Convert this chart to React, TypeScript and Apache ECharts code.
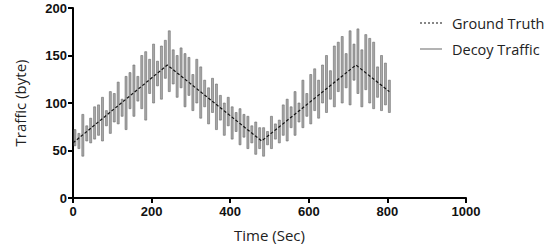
import React, { useEffect, useRef } from "react";
import * as echarts from "echarts";

// Ground truth key points [time, traffic]
const truthTimes = [0, 240, 480, 720, 805];
const truthValues = [58, 140, 60, 140, 112];

// Decoy traffic bars: time, high, low
const decoyTimes = [
  5, 15, 25, 35, 45, 55, 65, 75, 85, 95, 105, 115, 125, 135, 145, 155, 165, 175, 185, 195,
  205, 215, 225, 235, 245, 255, 265, 275, 285, 295, 305, 315, 325, 335, 345, 355, 365, 375, 385, 395,
  405, 415, 425, 435, 445, 455, 465, 475, 485, 495, 505, 515, 525, 535, 545, 555, 565, 575, 585, 595,
  605, 615, 625, 635, 645, 655, 665, 675, 685, 695, 705, 715, 725, 735, 745, 755, 765, 775, 785, 795, 805,
];
const decoyHigh = [
  72, 68, 88, 76, 84, 96, 98, 106, 92, 112, 110, 122, 104, 128, 132, 140, 128, 150, 154, 146,
  162, 144, 160, 166, 176, 156, 150, 158, 152, 148, 130, 146, 138, 124, 116, 126, 120, 108, 100, 106,
  96, 90, 94, 88, 86, 76, 80, 74, 74, 70, 86, 78, 82, 98, 104, 96, 112, 100, 124, 110,
  130, 136, 124, 140, 150, 134, 160, 164, 170, 152, 176, 162, 178, 156, 172, 168, 164, 138, 150, 142, 124,
];
const decoyLow = [
  55, 52, 44, 60, 58, 62, 66, 60, 76, 68, 80, 78, 86, 72, 94, 86, 102, 94, 82, 110,
  100, 118, 104, 126, 112, 120, 106, 116, 96, 108, 92, 100, 84, 96, 78, 90, 72, 82, 66, 76,
  62, 70, 56, 64, 52, 58, 46, 52, 44, 56, 52, 62, 58, 66, 60, 74, 66, 80, 74, 86,
  78, 92, 84, 100, 90, 104, 96, 112, 100, 116, 98, 124, 110, 96, 114, 100, 94, 106, 92, 98, 90,
];

const xTicks = [0, 1000, 200];
const yTicks = [0, 200, 50];

export default function App() {
  const ref = useRef<HTMLDivElement>(null);
  useEffect(() => {
    if (!ref.current) return;
    const chart = echarts.init(ref.current, null, { renderer: "svg" });
    const truthData = truthTimes.map((t, i) => [t, truthValues[i]]);
    const decoyData = decoyTimes.map((t, i) => [t, decoyLow[i], decoyHigh[i]]);
    const font = "'Open Sans', 'Noto Sans', sans-serif";
    const axisLine = { show: true, lineStyle: { color: "#000", width: 2 } };
    const axisTick = { show: true, length: 5, lineStyle: { color: "#000", width: 2 } };
    const labelStyle = {
      color: "#111",
      fontWeight: "bold",
      fontSize: 13,
      fontFamily: "Arial, 'Liberation Sans', sans-serif",
      formatter: (v: number) => String(v),
    };
    const nameStyle = { color: "#222", fontSize: 15, fontFamily: font };
    chart.setOption({
      animation: false,
      grid: { left: 73, right: 84, top: 8, bottom: 50, containLabel: false },
      xAxis: {
        type: "value",
        min: xTicks[0],
        max: xTicks[1],
        interval: xTicks[2],
        name: "Time (Sec)",
        nameLocation: "middle",
        nameGap: 29,
        nameTextStyle: nameStyle,
        axisLine,
        axisTick,
        splitLine: { show: false },
        axisLabel: { ...labelStyle, margin: 7 },
      },
      yAxis: {
        type: "value",
        min: yTicks[0],
        max: yTicks[1],
        interval: yTicks[2],
        name: "Traffic (byte)",
        nameLocation: "middle",
        nameGap: 46,
        nameTextStyle: nameStyle,
        axisLine,
        axisTick,
        splitLine: { show: false },
        axisLabel: { ...labelStyle, margin: 6 },
      },
      series: [
        {
          name: "Decoy Traffic",
          type: "custom",
          encode: { x: 0, y: [1, 2] },
          data: decoyData,
          renderItem: (params: any, api: any) => {
            const t = api.value(0);
            const lo = api.coord([t, api.value(1)]);
            const hi = api.coord([t, api.value(2)]);
            return {
              type: "rect",
              shape: { x: lo[0] - 1, y: hi[1], width: 2, height: lo[1] - hi[1] },
              style: { fill: "#a9a9a9", stroke: "#6a6a6a", lineWidth: 0.6 },
            };
          },
          z: 2,
        },
        {
          name: "Ground Truth",
          type: "line",
          data: truthData,
          symbol: "none",
          lineStyle: { color: "#111", width: 1.2, type: [3, 2] },
          z: 3,
        },
      ],
      graphic: [
        {
          type: "line",
          shape: { x1: 420, y1: 23, x2: 442, y2: 23 },
          style: { stroke: "#111", lineWidth: 1.2, lineDash: [2, 2] },
        },
        {
          type: "text",
          x: 452,
          y: 23,
          style: { text: "Ground Truth", fill: "#222", font: `14.5px ${font}`, verticalAlign: "middle" },
        },
        {
          type: "line",
          shape: { x1: 420, y1: 49, x2: 442, y2: 49 },
          style: { stroke: "#8a8a8a", lineWidth: 1.3 },
        },
        {
          type: "text",
          x: 452,
          y: 49,
          style: { text: "Decoy Traffic", fill: "#222", font: `14.5px ${font}`, verticalAlign: "middle" },
        },
      ],
    });
    return () => chart.dispose();
  }, []);
  return <div ref={ref} style={{ width: 550, height: 248, position: "absolute", left: 0, top: 0 }} />;
}
